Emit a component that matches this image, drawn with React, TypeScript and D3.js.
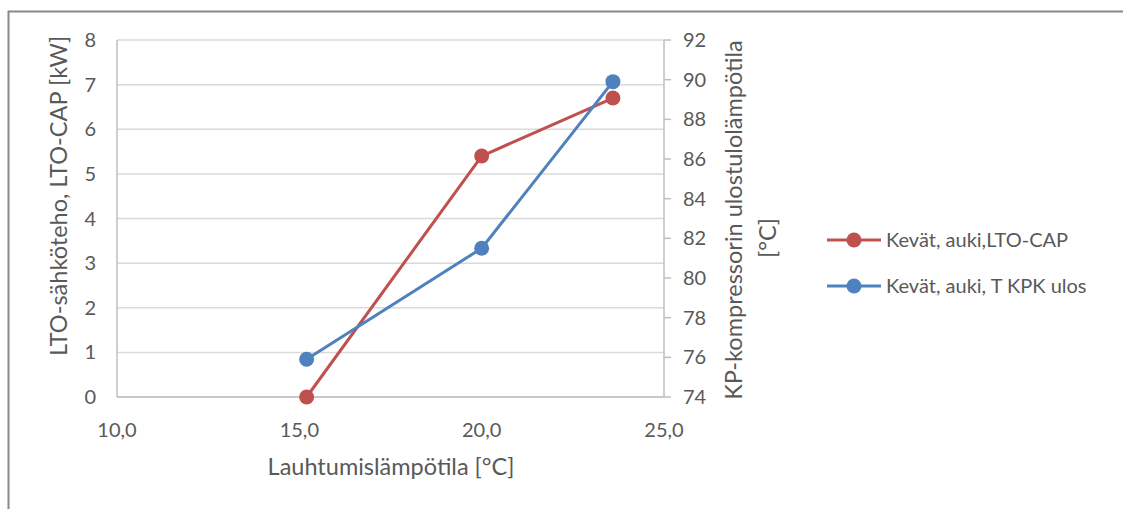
import React from "react";
import * as d3 from "d3";

// Condensing temperature (°C) for each measurement
const condTemp = [15.2, 20.0, 23.6];
// LTO-CAP electric power (kW), left axis
const ltoCap = [0.0, 5.4, 6.7];
// Compressor outlet temperature (°C), right axis
const tKpkUlos = [75.9, 81.5, 89.9];

const xTicks = [10, 15, 20, 25];
const yLeftTicks = [0, 1, 2, 3, 4, 5, 6, 7, 8];
const yRightTicks = [74, 76, 78, 80, 82, 84, 86, 88, 90, 92];

const seriesNames = ["Kevät, auki,LTO-CAP", "Kevät, auki, T KPK ulos"];
const RED = "#C0504D";
const BLUE = "#4F81BD";
const TEXT = "#595959";
const FONT = "Lato, 'Open Sans', sans-serif";

export default function App() {
  const W = 1123;
  const H = 509;
  const left = 117;
  const right = 664;
  const top = 40;
  const bottom = 397;

  const x = d3.scaleLinear().domain([10, 25]).range([left, right]);
  const yL = d3.scaleLinear().domain([0, 8]).range([bottom, top]);
  const yR = d3.scaleLinear().domain([74, 92]).range([bottom, top]);

  const redPts: [number, number][] = condTemp.map((t, i) => [x(t), yL(ltoCap[i])]);
  const bluePts: [number, number][] = condTemp.map((t, i) => [x(t), yR(tKpkUlos[i])]);
  const line = d3.line();

  return (
    <svg
      width={W}
      height={H}
      style={{ position: "absolute", left: 0, top: 0, display: "block" }}
      fontFamily={FONT}
    >
      <rect x={0} y={0} width={W} height={H} fill="#fff" />
      {/* outer chart frame */}
      <line x1={8.5} y1={11} x2={8.5} y2={H} stroke="#888" strokeWidth={2} />
      <line x1={8} y1={11.5} x2={W} y2={11.5} stroke="#888" strokeWidth={2} />

      {/* horizontal gridlines */}
      {yLeftTicks.map((t) => (
        <line key={"g" + t} x1={left} x2={right} y1={yL(t)} y2={yL(t)} stroke="#D9D9D9" strokeWidth={1.5} />
      ))}

      {/* axis lines */}
      <line x1={left} x2={left} y1={top} y2={bottom} stroke="#BFBFBF" strokeWidth={1.5} />
      <line x1={left} x2={right} y1={bottom} y2={bottom} stroke="#BFBFBF" strokeWidth={1.5} />
      <line x1={right} x2={right} y1={top} y2={bottom} stroke="#BFBFBF" strokeWidth={1.5} />
      {yRightTicks.map((t) => (
        <line key={"rt" + t} x1={right} x2={right + 7} y1={yR(t)} y2={yR(t)} stroke="#BFBFBF" strokeWidth={1.5} />
      ))}

      {/* left tick labels */}
      {yLeftTicks.map((t) => (
        <text key={"l" + t} x={96} y={yL(t)} dy="0.35em" textAnchor="end" fontSize={20} fill={TEXT}>
          {t}
        </text>
      ))}
      {/* right tick labels */}
      {yRightTicks.map((t) => (
        <text key={"r" + t} x={683} y={yR(t)} dy="0.35em" textAnchor="start" fontSize={20} fill={TEXT}>
          {t}
        </text>
      ))}
      {/* x tick labels */}
      {xTicks.map((t) => (
        <text key={"x" + t} x={x(t)} y={430} dy="0.35em" textAnchor="middle" fontSize={20} fill={TEXT}>
          {d3.format(".1f")(t).replace(".", ",")}
        </text>
      ))}

      {/* axis titles */}
      <text x={391} y={467} dy="0.35em" textAnchor="middle" fontSize={23.5} fill={TEXT}>
        Lauhtumislämpötila [°C]
      </text>
      <text
        transform={`translate(59,196) rotate(-90)`}
        dy="0.35em"
        textAnchor="middle"
        fontSize={23.5}
        fill={TEXT}
      >
        LTO-sähköteho, LTO-CAP [kW]
      </text>
      <text
        transform={`translate(734,220) rotate(-90)`}
        dy="0.35em"
        textAnchor="middle"
        fontSize={23.5}
        fill={TEXT}
      >
        KP-kompressorin ulostulolämpötila
      </text>
      <text
        transform={`translate(768,238) rotate(-90)`}
        dy="0.35em"
        textAnchor="middle"
        fontSize={23.5}
        fill={TEXT}
      >
        [°C]
      </text>

      {/* series */}
      <path d={line(redPts) ?? ""} fill="none" stroke={RED} strokeWidth={3} strokeLinejoin="round" />
      {redPts.map((p, i) => (
        <circle key={"rp" + i} cx={p[0]} cy={p[1]} r={7.5} fill={RED} />
      ))}
      <path d={line(bluePts) ?? ""} fill="none" stroke={BLUE} strokeWidth={3} strokeLinejoin="round" />
      {bluePts.map((p, i) => (
        <circle key={"bp" + i} cx={p[0]} cy={p[1]} r={7.5} fill={BLUE} />
      ))}

      {/* legend */}
      {[RED, BLUE].map((c, i) => {
        const ly = 240 + i * 46;
        return (
          <g key={"lg" + i}>
            <line x1={827} x2={881} y1={ly} y2={ly} stroke={c} strokeWidth={3} />
            <circle cx={854} cy={ly} r={7.5} fill={c} />
            <text x={886} y={ly} dy="0.35em" fontSize={20} fill={TEXT}>
              {seriesNames[i]}
            </text>
          </g>
        );
      })}
    </svg>
  );
}
